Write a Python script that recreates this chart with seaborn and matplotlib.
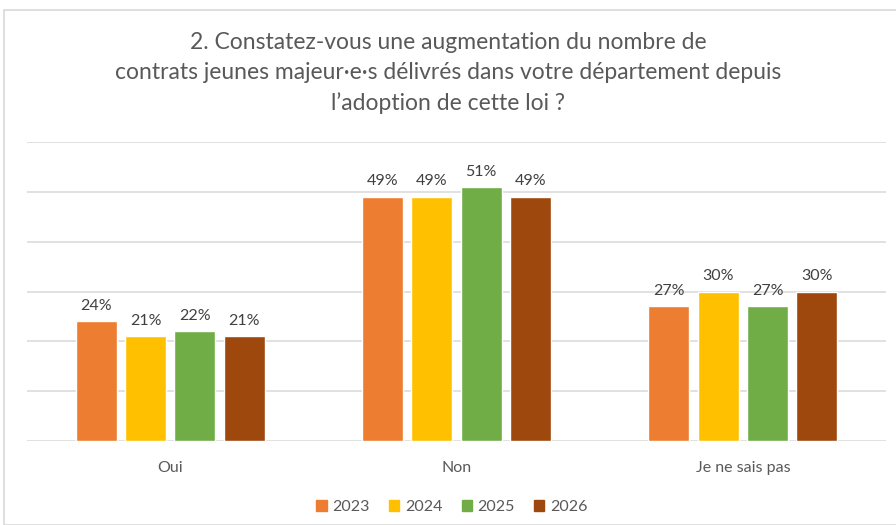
import matplotlib
matplotlib.use('Agg')
import matplotlib.pyplot as plt
import matplotlib.patches as mpatches
import pandas as pd
import seaborn as sns

# %%
categories = ['Oui', 'Non', 'Je ne sais pas']
years = ['2023', '2024', '2025', '2026']
v2023 = [24, 49, 27]
v2024 = [21, 49, 30]
v2025 = [22, 51, 27]
v2026 = [21, 49, 30]
colors = ['#ED7D31', '#FFC000', '#70AD47', '#9E480E']

title = ("2. Constatez-vous une augmentation du nombre de\n"
         "contrats jeunes majeur\u00b7e\u00b7s d\u00e9livr\u00e9s dans votre d\u00e9partement depuis\n"
         "l\u2019adoption de cette loi ?")

rows = []
for year, vals in zip(years, [v2023, v2024, v2025, v2026]):
    for cat, v in zip(categories, vals):
        rows.append({'categorie': cat, 'annee': year, 'pct': v})
df = pd.DataFrame(rows)

# %%
sns.set_style('white')
plt.rcParams['font.family'] = ['Lato', 'DejaVu Sans']

fig = plt.figure(figsize=(8.96, 5.25), dpi=100)
ax = fig.add_axes([27 / 896, 1 - 441 / 525, 859 / 896, 299 / 525])

sns.barplot(data=df, x='categorie', y='pct', hue='annee', order=categories,
            hue_order=years, palette=colors, width=0.69, gap=0.17,
            saturation=1, ax=ax, legend=False)

for cont in ax.containers:
    ax.bar_label(cont, labels=[f'{v:.0f}%' for v in cont.datavalues],
                 padding=6, fontsize=11.5, color='#404040')

ax.set_ylim(0, 60)
ax.set_yticks(range(0, 61, 10))
ax.yaxis.grid(True, color='#d9d9d9', linewidth=1.1)
ax.set_axisbelow(True)
ax.tick_params(axis='y', left=False, labelleft=False)
ax.tick_params(axis='x', bottom=False, labelsize=11.5, labelcolor='#595959', pad=11)
for s in ax.spines.values():
    s.set_visible(False)
ax.set_xlabel('')
ax.set_ylabel('')

fig.text(448 / 896, 1 - 73 / 525, title, ha='center', va='center',
         fontsize=16.5, color='#595959', linespacing=1.5)

handles = [mpatches.Patch(color=c, label=y) for c, y in zip(colors, years)]
fig.legend(handles=handles, loc='center', bbox_to_anchor=(452 / 896, 1 - 507 / 525),
           ncol=4, frameon=False, fontsize=11.5, labelcolor='#595959',
           handlelength=0.65, handleheight=0.65, handletextpad=0.35, columnspacing=1.2)

fig.patches.append(mpatches.Rectangle((4 / 896, 0), 900 / 896, 1 - 10 / 525,
                                      transform=fig.transFigure, fill=False,
                                      edgecolor='#d9d9d9', linewidth=1.2))

fig.savefig('out.png', dpi=100)
